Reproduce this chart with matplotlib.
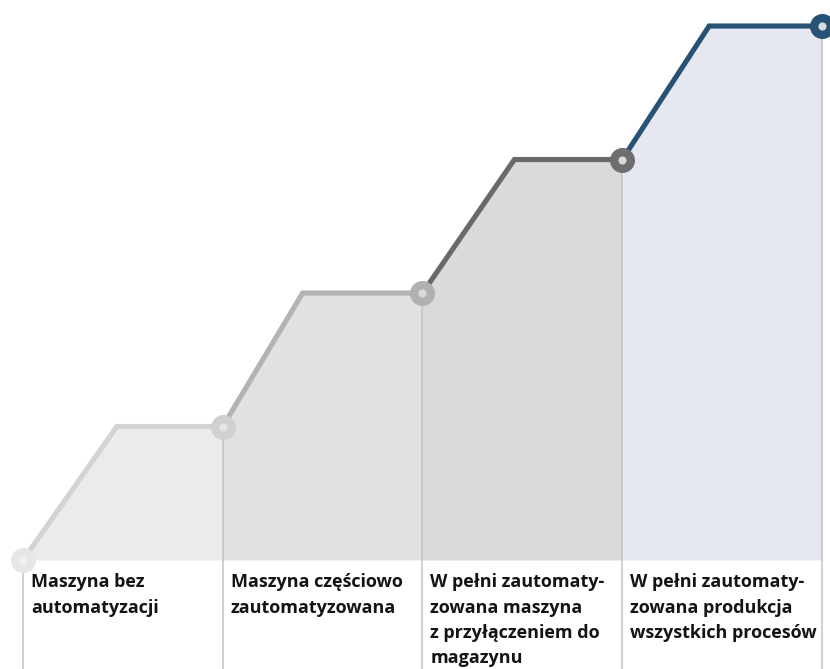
import matplotlib.pyplot as plt

# stages (x = stage boundary index), levels reached at the end of each stage
stage_start = [0, 1, 2, 3]
level_start = [0, 1, 2, 3]
level_end = [1, 2, 3, 4]
ramp_width = [0.47, 0.40, 0.46, 0.435]   # fraction of a stage spent climbing
labels = [
    "Maszyna bez\nautomatyzacji",
    "Maszyna częściowo\nzautomatyzowana",
    "W pełni zautomaty-\nzowana maszyna\nz przyłączeniem do\nmagazynu",
    "W pełni zautomaty-\nzowana produkcja\nwszystkich procesów",
]

line_colors = ["#d3d3d3", "#b3b3b3", "#696969", "#285275"]
fill_colors = ["#ebebeb", "#e1e1e1", "#dadada", "#e5e8f0"]
marker_colors = ["#e6e6e6", "#d0d0d0", "#b1b1b1", "#6e6e6e", "#285275"]
dot_colors = ["#f2f2f2", "#e4e4e4", "#d9d9d9", "#d9d9d9", "#d9d9d9"]

plt.rcParams['font.family'] = ['Open Sans', 'DejaVu Sans']

fig = plt.figure(figsize=(8.3, 6.69), dpi=100)
ax = fig.add_axes([0, 0, 1, 1])
ax.set_xlim(-0.115, 4.04)
ax.set_ylim(-0.8165, 4.195)
ax.axis("off")

# fills and step lines
for i in range(4):
    x0 = stage_start[i]
    xs = [x0, x0 + ramp_width[i], x0 + 1]
    ys = [level_start[i], level_end[i], level_end[i]]
    ax.fill_between(xs, 0, ys, color=fill_colors[i], linewidth=0, zorder=1)
    ax.plot(xs, ys, color=line_colors[i], linewidth=3.7,
            solid_capstyle="butt", solid_joinstyle="miter", zorder=3)

# thin vertical guides from each point down past the baseline
points_x = stage_start + [4]
points_y = [0] + level_end
for x, y in zip(points_x, points_y):
    ax.plot([x, x], [y, -0.8165], color="#c2c2c2", linewidth=1.1, zorder=2)

# ring markers
for x, y, mc, dc in zip(points_x, points_y, marker_colors, dot_colors):
    ax.plot(x, y, marker="o", markersize=12, markeredgewidth=6,
            markerfacecolor=dc, markeredgecolor=mc, zorder=4)

# stage labels
for x, txt in zip(stage_start, labels):
    ax.text(x + 0.04, -0.10, txt, ha="left", va="top", fontsize=13,
            fontweight="bold", color="#141414", linespacing=1.52, zorder=5)

fig.savefig("out.png", dpi=100)
